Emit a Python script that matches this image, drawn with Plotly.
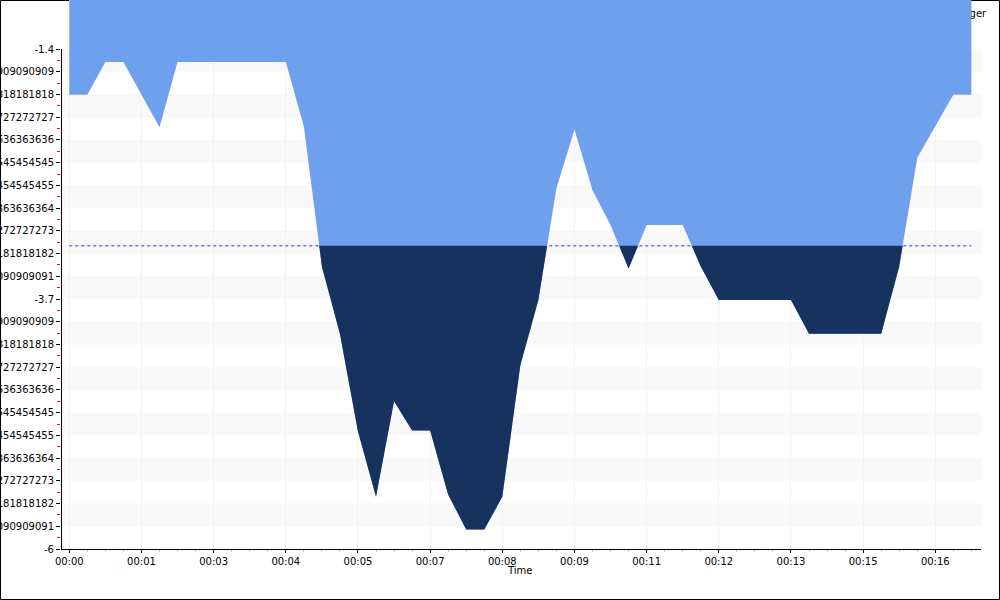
import plotly.graph_objects as go

# ---------------- data ----------------
sample_seconds = [0, 20, 40, 60, 80, 100, 120, 140, 160, 180,
                  200, 220, 240, 260, 280, 300, 320, 340, 360, 380,
                  400, 420, 440, 460, 480, 500, 520, 540, 560, 580,
                  600, 620, 640, 660, 680, 700, 720, 740, 760, 780,
                  800, 820, 840, 860, 880, 900, 920, 940, 960, 980, 1000]
depth_values = [-1.82, -1.82, -1.52, -1.52, -1.82, -2.12, -1.52, -1.52, -1.52, -1.52,
                -1.52, -1.52, -1.52, -2.11, -3.40, -4.02, -4.92, -5.52, -4.64, -4.91,
                -4.91, -5.50, -5.82, -5.82, -5.52, -4.31, -3.71, -2.68, -2.14, -2.70,
                -3.02, -3.42, -3.02, -3.02, -3.02, -3.40, -3.71, -3.71, -3.71, -3.71,
                -3.71, -4.02, -4.02, -4.02, -4.02, -4.02, -3.40, -2.40, -2.11, -1.82, -1.82]
threshold = -3.21

x_tick_seconds = [0, 80, 160, 240, 320, 400, 480, 560, 640, 720, 800, 880, 960]
x_tick_labels = ["00:00", "00:01", "00:03", "00:04", "00:05", "00:07", "00:08",
                 "00:09", "00:11", "00:12", "00:13", "00:15", "00:16"]
y_axis_top = -1.4
y_axis_bottom = -6.0
y_intervals = 22
legend_label = "Danger"
x_title = "Time"

# ---------------- styles ----------------
LIGHT_BLUE = "#6FA0ED"
NAVY = "#16325F"
STRIPE = "#F8F8F8"
FONT = dict(family="DejaVu Sans", size=10, color="black")

step = (y_axis_top - y_axis_bottom) / y_intervals
y_ticks = [y_axis_top - k * step for k in range(y_intervals + 1)]


def fmt(v):
    s = format(round(v, 11), ".11f").rstrip("0").rstrip(".")
    return s


y_tick_text = [fmt(v) for v in y_ticks]
y_minor = [(y_ticks[k] + y_ticks[k + 1]) / 2 for k in range(y_intervals)]

# navy region (between threshold and series where series below threshold)
xs, lows = [], []
n = len(sample_seconds)
for i in range(n):
    x0, v0 = sample_seconds[i], depth_values[i]
    xs.append(x0)
    lows.append(min(v0, threshold))
    if i < n - 1:
        x1, v1 = sample_seconds[i + 1], depth_values[i + 1]
        if (v0 - threshold) * (v1 - threshold) < 0:
            xc = x0 + (threshold - v0) / (v1 - v0) * (x1 - x0)
            xs.append(xc)
            lows.append(threshold)
poly_x = xs + xs[::-1]
poly_y = lows + [threshold] * len(xs)

fig = go.Figure()

# legend text (covered by the fill)
fig.add_trace(go.Scatter(x=[996], y=[-1.087], mode="text", text=[legend_label],
                         textposition="middle center", textfont=FONT,
                         cliponaxis=False, showlegend=False, hoverinfo="skip"))
# threshold dotted line
fig.add_trace(go.Scatter(x=[sample_seconds[0], sample_seconds[-1]], y=[threshold, threshold],
                         mode="lines", line=dict(color="#7070FA", width=1.4, dash="dot"),
                         showlegend=False, hoverinfo="skip"))
# light blue area from series up to zero
fig.add_trace(go.Scatter(x=sample_seconds, y=depth_values, mode="lines", fill="tozeroy",
                         fillcolor=LIGHT_BLUE, line=dict(width=0, color=LIGHT_BLUE),
                         showlegend=False, hoverinfo="skip"))
# navy area below threshold
fig.add_trace(go.Scatter(x=poly_x, y=poly_y, mode="lines", fill="toself",
                         fillcolor=NAVY, line=dict(width=0, color=NAVY),
                         showlegend=False, hoverinfo="skip"))

shapes = []
for k in range(0, y_intervals, 2):
    shapes.append(dict(type="rect", xref="paper", yref="y", x0=0, x1=1,
                       y0=y_ticks[k + 1], y1=y_ticks[k], fillcolor=STRIPE,
                       line=dict(width=0), layer="below"))
# y axis line
shapes.append(dict(type="line", xref="paper", yref="y", x0=0.5 / 920, x1=0.5 / 920,
                   y0=y_axis_bottom, y1=y_axis_top, line=dict(color="black", width=1),
                   layer="above"))
# outer border
shapes.append(dict(type="rect", xref="paper", yref="paper",
                   x0=(0.5 - 61) / 920, x1=(999.5 - 61) / 920,
                   y0=(549 - 599.5) / 549, y1=(549 - 0.5) / 549,
                   line=dict(color="black", width=1), fillcolor="rgba(0,0,0,0)",
                   layer="below"))

fig.update_layout(
    width=1000, height=600,
    margin=dict(l=61, r=19, t=0, b=51),
    paper_bgcolor="white", plot_bgcolor="rgba(0,0,0,0)",
    font=FONT, showlegend=False, shapes=shapes,
    annotations=[dict(text=x_title, xref="paper", yref="paper",
                      x=(519 - 61) / 920, y=-(570 - 549) / 549,
                      showarrow=False, font=FONT, xanchor="center", yanchor="middle")],
    xaxis=dict(range=[-9.2, 1010.66], tickmode="array", tickvals=x_tick_seconds,
               ticktext=x_tick_labels, ticks="outside", ticklen=3, tickcolor="black",
               showline=True, linecolor="black", linewidth=1, zeroline=False,
               showgrid=True, gridcolor="#F2F2F2", gridwidth=1, tickfont=FONT,
               automargin=False,
               minor=dict(tick0=0, dtick=20, ticks="outside", ticklen=2,
                          tickcolor="#C8C8C8", showgrid=False)),
    yaxis=dict(range=[-6, -6 + 549 / 108.696], tickmode="array", tickvals=y_ticks,
               ticktext=y_tick_text, ticks="outside", ticklen=4, tickcolor="black",
               showline=False, zeroline=False, showgrid=False, tickfont=FONT,
               automargin=False,
               minor=dict(tickmode="array", tickvals=y_minor, ticks="outside",
                          ticklen=3, tickcolor="red", showgrid=False)),
)

fig.write_html("out.html", config={"displayModeBar": False},
               post_script="document.body.style.margin='0';document.body.style.padding='0';")
